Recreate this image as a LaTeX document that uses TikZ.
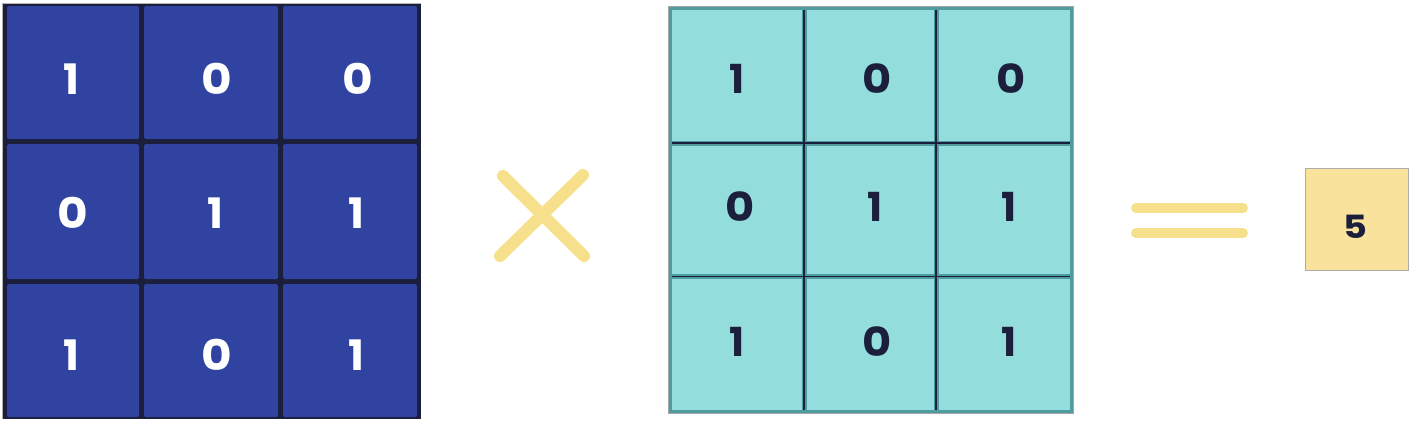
\documentclass[tikz,border=0pt]{standalone}
\usepackage{fontspec}
\newfontfamily\digitfont{Poppins}[UprightFont=* Bold]
\definecolor{navycell}{HTML}{3043A0}
\definecolor{darknavy}{HTML}{1B1F3B}
\definecolor{cyancell}{HTML}{93DEDC}
\definecolor{tealedge}{HTML}{4F9C9E}
\definecolor{signyellow}{HTML}{F7E08C}
\definecolor{boxyellow}{HTML}{F8E29C}
\newcommand{\zr}{\scalebox{1.12}[1]{0}}
\tikzset{
  bluecell/.style={fill=navycell, rounded corners=1.5},
  whitedigit/.style={text=white, font=\digitfont\fontsize{42}{42}\selectfont, inner sep=0pt},
  darkdigit/.style={text=darknavy, font=\digitfont\fontsize{40}{40}\selectfont, inner sep=0pt},
  signline/.style={draw=signyellow, line width=12pt, line cap=round},
  eqline/.style={draw=signyellow, line width=10pt, line cap=round},
}
\begin{document}
\begin{tikzpicture}[x=1pt,y=-1pt]
\useasboundingbox (0,0) rectangle (1412,423);
% ---------- left grid ----------
\fill[darknavy] (2,3) rectangle (421,419);
\draw[gray!60, line width=0.8pt] (2,419) -- (2,3) -- (421,3);
\foreach \x/\xx in {7/139,144/278,283/417}{
  \foreach \y/\yy in {6/139,144/279,284/417}{
    \fill[bluecell] (\x,\y) rectangle (\xx,\yy);
  }
}
\node[whitedigit] (a11) at (71,79) {1};
\node[whitedigit] (a12) at (217,79) {\zr};
\node[whitedigit] (a13) at (358,79) {\zr};
\node[whitedigit] (a21) at (73,213) {\zr};
\node[whitedigit] (a22) at (215,213) {1};
\node[whitedigit] (a23) at (356,213) {1};
\node[whitedigit] (a31) at (71,355) {1};
\node[whitedigit] (a32) at (217,355) {\zr};
\node[whitedigit] (a33) at (356,355) {1};
% ---------- times sign ----------
\coordinate (t1) at (503,176);
\coordinate (t2) at (584,256);
\coordinate (t3) at (583,175);
\coordinate (t4) at (500,256);
\draw[signline] (t1) -- (t2);
\draw[signline] (t3) -- (t4);
% ---------- right grid ----------
\fill[cyancell] (669,7) rectangle (1073,413);
\draw[tealedge, line width=5pt] (804,7) -- (804,413) (936,7) -- (936,413)
  (669,143) -- (1073,143) (669,276) -- (1073,276);
\draw[darknavy, line width=1.6pt] (804,9) -- (804,411) (936,9) -- (936,411)
  (671,143) -- (1071,143);
\draw[darknavy, line width=1pt] (671,276) -- (1071,276);
\draw[tealedge, line width=3pt] (670.5,8.5) rectangle (1071.5,411.5);
\draw[gray!70, line width=1pt] (668.5,6.5) rectangle (1073.5,413.5);
\node[darkdigit] (b11) at (737,79) {1};
\node[darkdigit] (b12) at (877,79) {\zr};
\node[darkdigit] (b13) at (1011,79) {\zr};
\node[darkdigit] (b21) at (740,207) {\zr};
\node[darkdigit] (b22) at (875,207) {1};
\node[darkdigit] (b23) at (1009,207) {1};
\node[darkdigit] (b31) at (737,342) {1};
\node[darkdigit] (b32) at (877,342) {\zr};
\node[darkdigit] (b33) at (1009,342) {1};
% ---------- equals sign ----------
\coordinate (e1) at (1136,208);
\coordinate (e2) at (1243,208);
\coordinate (e3) at (1136,233);
\coordinate (e4) at (1243,233);
\draw[eqline] (e1) -- (e2);
\draw[eqline] (e3) -- (e4);
% ---------- result ----------
\node[draw=gray!65, line width=1.5pt, fill=boxyellow, minimum width=103pt, minimum height=102pt, inner sep=0pt] (res) at (1357,219.5) {};
\node[text=darknavy, font=\digitfont\fontsize{32}{32}\selectfont, inner sep=0pt] (res5) at (1355,227) {\scalebox{1.15}[1]{5}};
\end{tikzpicture}
\end{document}
